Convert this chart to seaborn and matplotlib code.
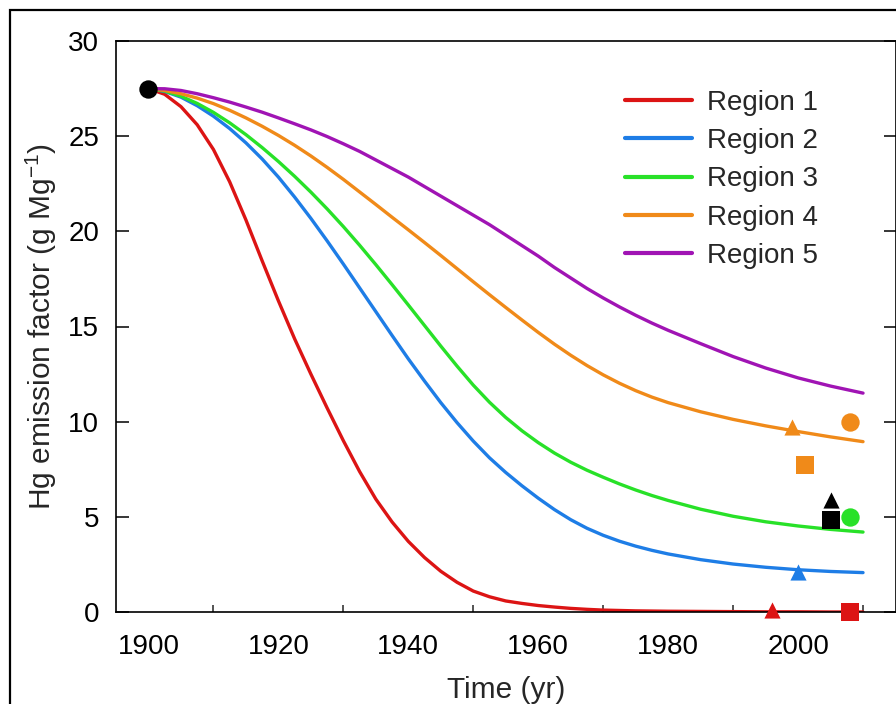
import numpy as np
import pandas as pd
import matplotlib
matplotlib.use("Agg")
import matplotlib.pyplot as plt
from matplotlib.patches import Rectangle
import seaborn as sns

# ---------------- data ----------------
years = [1900, 1902.5, 1905, 1907.5, 1910, 1912.5, 1915, 1917.5, 1920, 1922.5,
         1925, 1927.5, 1930, 1932.5, 1935, 1937.5, 1940, 1942.5, 1945, 1947.5,
         1950, 1952.5, 1955, 1957.5, 1960, 1962.5, 1965, 1967.5, 1970,
         1972.5, 1975, 1977.5, 1980,
         1985, 1990, 1995, 2000, 2005, 2010]

region1 = [27.5, 27.2, 26.55, 25.6, 24.3, 22.6, 20.6, 18.45, 16.35, 14.35,
           12.5, 10.72, 9.0, 7.38, 5.93, 4.73, 3.71, 2.86, 2.14, 1.56,
           1.1, 0.8, 0.58, 0.45, 0.34, 0.26, 0.19, 0.14, 0.10,
           0.08, 0.06, 0.05, 0.04,
           0.03, 0.02, 0.01, 0.01, 0.0, 0.0]
region2 = [27.5, 27.35, 27.05, 26.6, 26.05, 25.4, 24.65, 23.8, 22.85, 21.8,
           20.68, 19.5, 18.28, 17.03, 15.78, 14.53, 13.3, 12.13, 11.0, 9.95,
           8.98, 8.1, 7.33, 6.63, 5.98, 5.38, 4.85, 4.4, 4.03,
           3.72, 3.46, 3.24, 3.05,
           2.75, 2.52, 2.35, 2.22, 2.13, 2.07]
region3 = [27.5, 27.37, 27.1, 26.72, 26.25, 25.7, 25.08, 24.4, 23.67, 22.89,
           22.06, 21.18, 20.25, 19.27, 18.25, 17.2, 16.13, 15.05, 13.97, 12.92,
           11.92, 11.02, 10.22, 9.52, 8.9, 8.35, 7.87, 7.45, 7.08,
           6.73, 6.41, 6.12, 5.86,
           5.4, 5.03, 4.74, 4.52, 4.34, 4.2]
region4 = [27.5, 27.4, 27.23, 27.0, 26.71, 26.36, 25.96, 25.52, 25.04, 24.52,
           23.96, 23.36, 22.73, 22.07, 21.41, 20.74, 20.08, 19.41, 18.73, 18.04,
           17.35, 16.67, 16.0, 15.34, 14.69, 14.07, 13.49, 12.95, 12.46,
           12.02, 11.63, 11.29, 11.0,
           10.52, 10.12, 9.78, 9.48, 9.2, 8.95]
region5 = [27.5, 27.49, 27.4, 27.23, 27.02, 26.79, 26.53, 26.26, 25.96, 25.65,
           25.33, 24.98, 24.6, 24.2, 23.75, 23.3, 22.85, 22.35, 21.85, 21.35,
           20.85, 20.35, 19.8, 19.25, 18.7, 18.1, 17.55, 17.0, 16.5,
           16.03, 15.59, 15.18, 14.8,
           14.1, 13.42, 12.82, 12.3, 11.87, 11.5]

region_names = ["Region 1", "Region 2", "Region 3", "Region 4", "Region 5"]
region_colors = ["#DC1414", "#1E7DE6", "#28E128", "#F08A19", "#A014B4"]

# observed points
pt_x = [1900, 1999, 2008, 2001, 2005, 2005, 2008, 2000, 1996, 2008]
pt_y = [27.5, 9.7, 10.0, 7.7, 5.9, 4.85, 5.0, 2.1, 0.1, 0.0]
pt_color = ["black", "#F08A19", "#F08A19", "#F08A19", "black", "black",
            "#28E128", "#1E7DE6", "#DC1414", "#DC1414"]
pt_marker = ["o", "^", "o", "s", "^", "s", "o", "^", "^", "s"]

x_ticks = [1900, 1920, 1940, 1960, 1980, 2000]
y_ticks = [0, 5, 10, 15, 20, 25, 30]

# ---------------- figure ----------------
sns.set_style("white")
plt.rcParams["font.family"] = ["Liberation Sans", "DejaVu Sans"]
plt.rcParams["mathtext.fontset"] = "custom"
plt.rcParams["mathtext.rm"] = "Liberation Sans"
plt.rcParams["mathtext.it"] = "Liberation Sans"

fig = plt.figure(figsize=(8.96, 7.04), dpi=100)
ax = fig.add_axes([116 / 896, 1 - 612 / 704, (895.5 - 116) / 896, (612 - 41) / 704])

df = pd.DataFrame({
    "Year": years * 5,
    "EF": region1 + region2 + region3 + region4 + region5,
    "Region": sum([[n] * len(years) for n in region_names], []),
})
sns.lineplot(data=df, x="Year", y="EF", hue="Region", hue_order=region_names,
             palette=dict(zip(region_names, region_colors)), linewidth=2.4,
             ax=ax, zorder=2)
for ln in ax.get_lines():
    ln.set_solid_joinstyle("round")

sizes = {"o": 175, "s": 150, "^": 135}
for x, y, c, m in zip(pt_x, pt_y, pt_color, pt_marker):
    sns.scatterplot(x=[x], y=[y], color=c, marker=m, s=sizes[m], linewidth=0,
                    ax=ax, zorder=4, clip_on=False, legend=False)

ax.set_xlim(1895, 2015)
ax.set_ylim(0, 30)
ax.set_xticks(x_ticks)
ax.set_xticks(np.arange(1900, 2015, 10), minor=True)
ax.set_yticks(y_ticks)

for s in ax.spines.values():
    s.set_linewidth(1.2)
    s.set_color("black")

ax.tick_params(axis="both", which="major", direction="in", length=9, width=1.1,
               labelsize=20, colors="black")
ax.tick_params(axis="x", which="major", pad=15.5)
ax.tick_params(axis="y", which="major", pad=12, right=True, left=True)
ax.tick_params(axis="x", which="minor", direction="in", length=5, width=1.1,
               bottom=True, top=False)
ax.tick_params(axis="x", top=False)

ax.set_xlabel("Time (yr)", fontsize=21.5, labelpad=12)
ax.set_ylabel(r"Hg emission factor (g Mg$^{\mathregular{-1}}$)", fontsize=21.5,
              labelpad=7)

handles, labels = ax.get_legend_handles_labels()
leg = ax.legend(handles, labels, loc="upper left",
                bbox_to_anchor=(625 / 896, 1 - 90 / 704),
                bbox_transform=fig.transFigure, frameon=False, fontsize=20,
                handlelength=2.4, handletextpad=0.55, labelspacing=0.44,
                borderpad=0, borderaxespad=0)
for h in leg.get_lines():
    h.set_linewidth(3)

# outer frame
fig.patches.append(Rectangle((10 / 896, -0.2), 1.5, 1.2 - 10 / 704,
                             transform=fig.transFigure, fill=False,
                             edgecolor="black", linewidth=1.6))

fig.savefig("out.png", dpi=100)
